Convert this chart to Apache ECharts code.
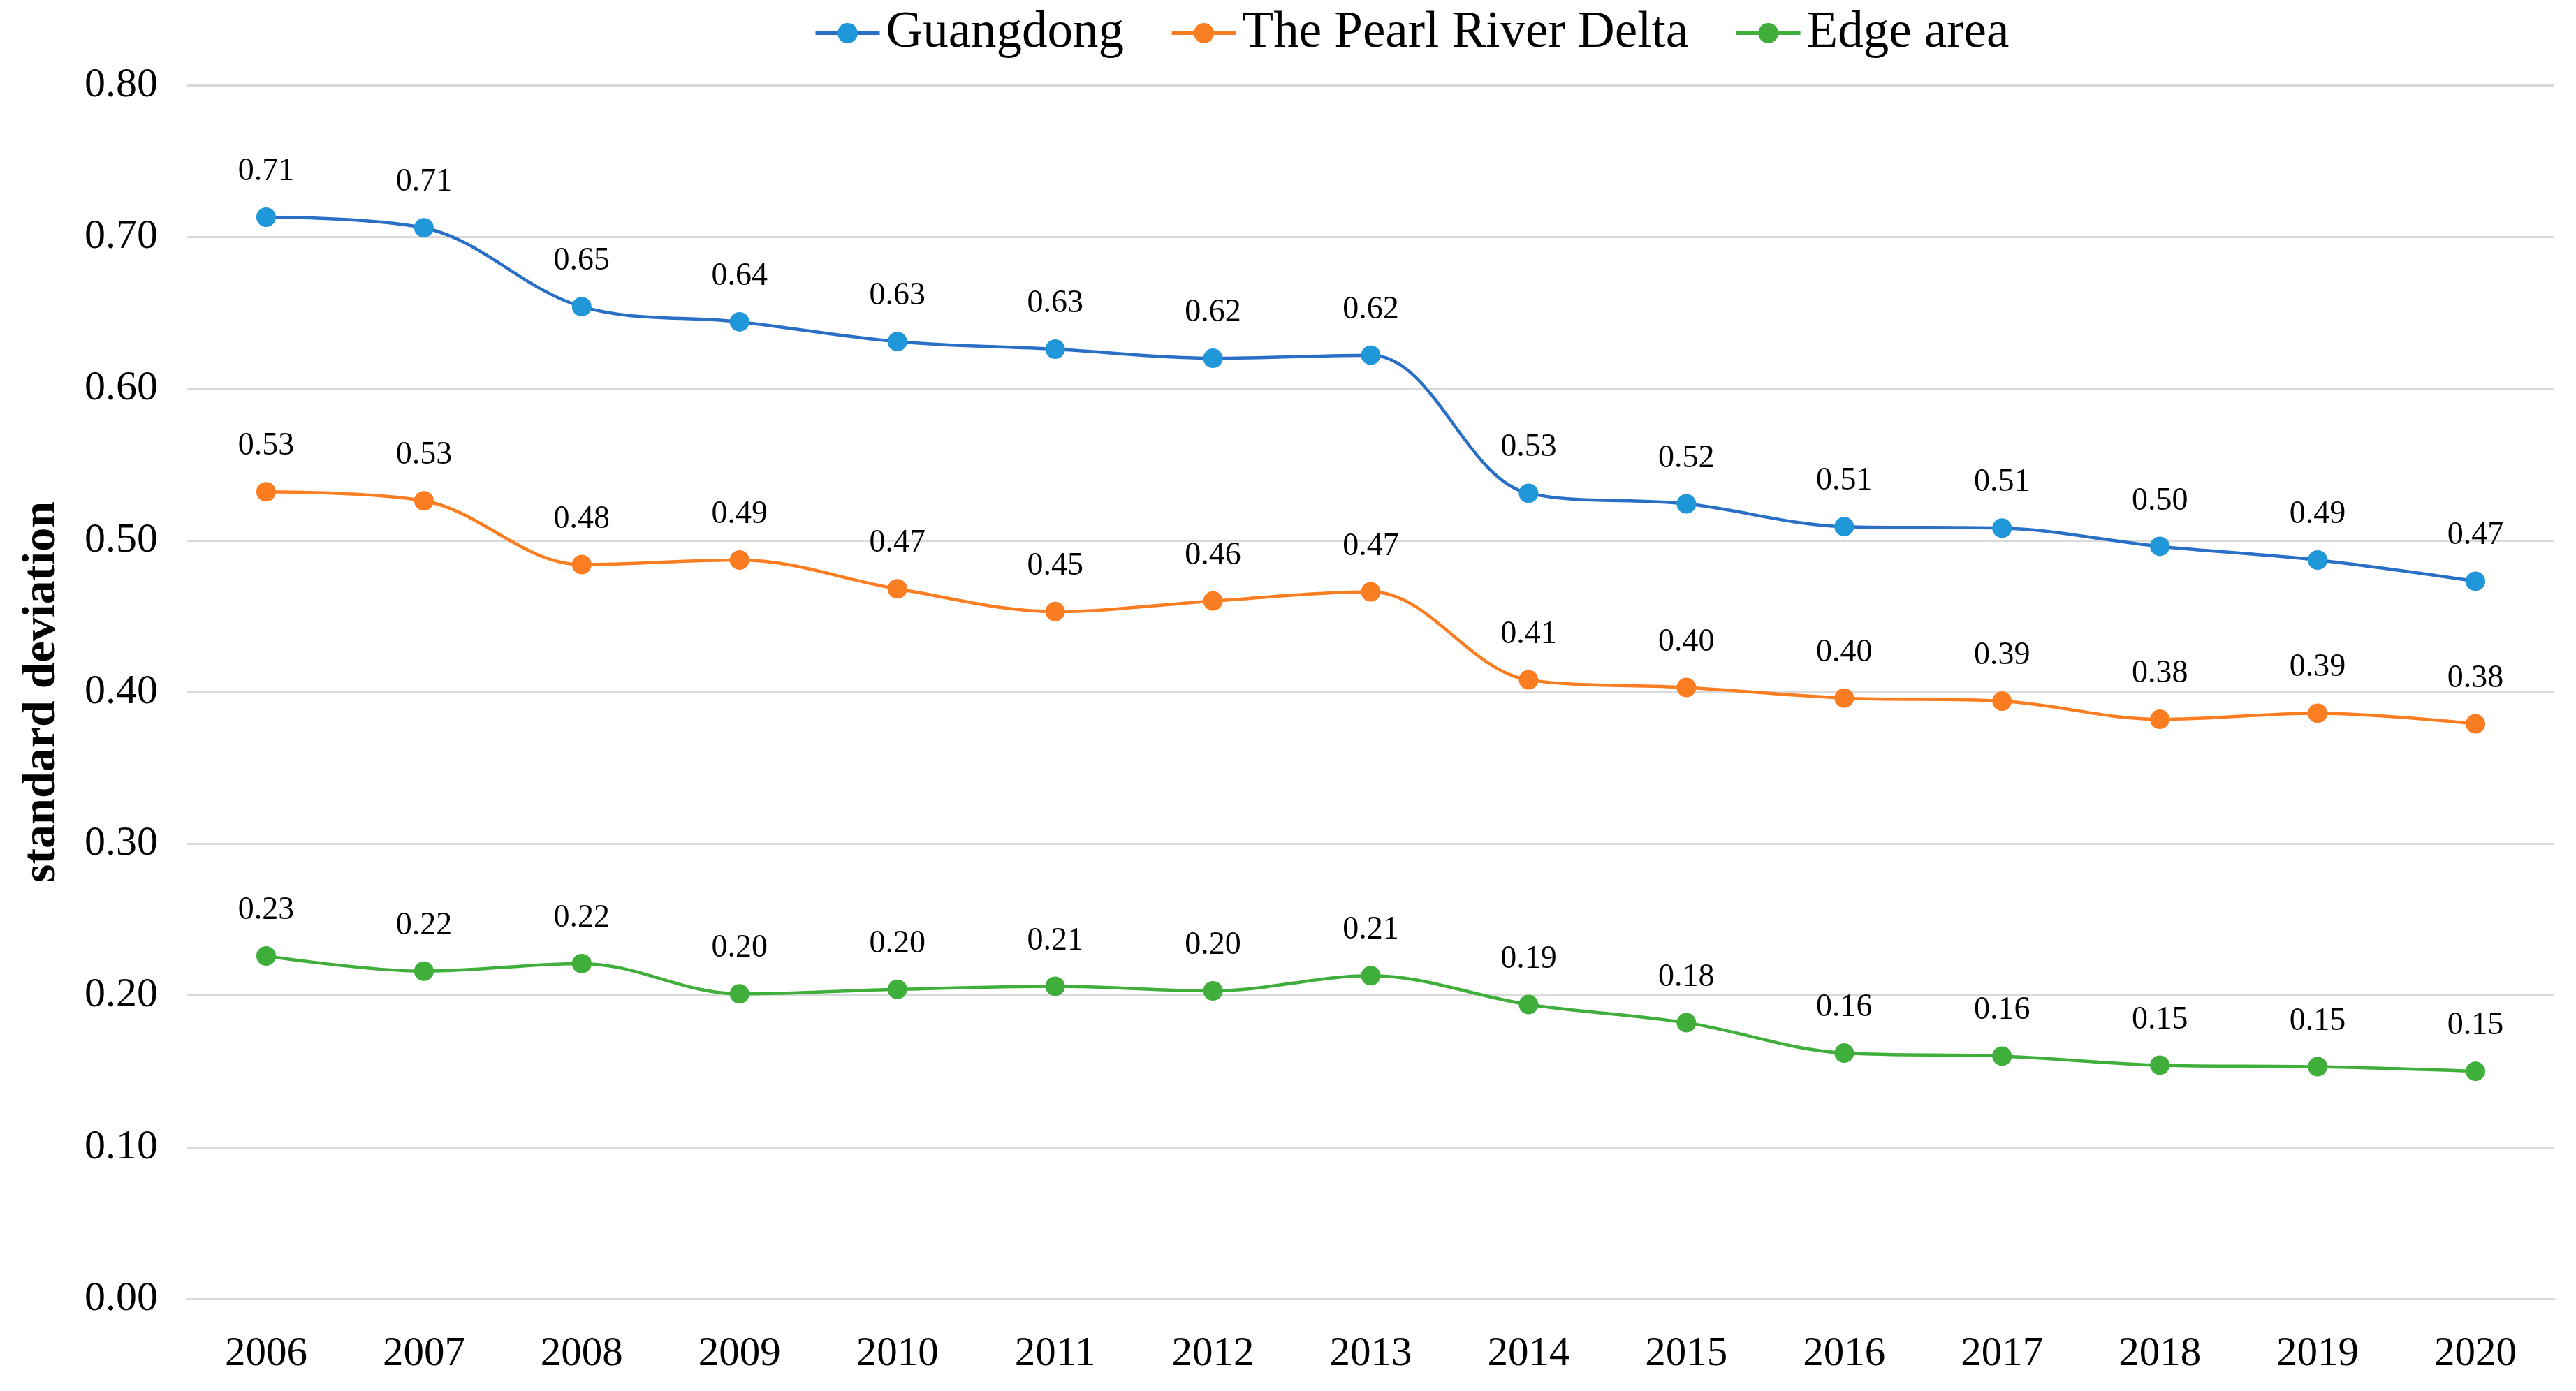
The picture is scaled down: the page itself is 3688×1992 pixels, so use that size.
<!DOCTYPE html>
<html>
<head>
<meta charset="utf-8">
<script src="https://cdn.jsdelivr.net/npm/echarts@6/dist/echarts.min.js"></script>
<style>
html,body{margin:0;padding:0;background:#fff;}
#chart{width:3688px;height:1992px;}
</style>
</head>
<body>
<div id="chart"></div>
<script>
const years = ['2006','2007','2008','2009','2010','2011','2012','2013','2014','2015','2016','2017','2018','2019','2020'];
const guangdong = [0.713,0.706,0.654,0.644,0.631,0.626,0.620,0.622,0.531,0.524,0.509,0.508,0.496,0.487,0.473];
const pearlRiverDelta = [0.532,0.526,0.484,0.487,0.468,0.453,0.460,0.466,0.408,0.403,0.396,0.394,0.382,0.386,0.379];
const edgeArea = [0.226,0.216,0.221,0.201,0.204,0.206,0.203,0.213,0.194,0.182,0.162,0.160,0.154,0.153,0.150];
const yTicks = [0, 0.1, 0.2, 0.3, 0.4, 0.5, 0.6, 0.7, 0.8];

const FONT = '"Liberation Serif", "Times New Roman", serif';

function mk(name, data, markerColor, lineColor) {
  return {
    name: name,
    type: 'line',
    data: data,
    smooth: 0.35,
    symbol: 'circle',
    symbolSize: 28,
    itemStyle: { color: markerColor },
    lineStyle: { color: lineColor, width: 4.5 },
    label: {
      show: true,
      position: 'top',
      distance: 28,
      fontFamily: FONT,
      fontSize: 46,
      color: '#000',
      formatter: p => p.value.toFixed(2)
    }
  };
}

const chart = echarts.init(document.getElementById('chart'));
chart.setOption({
  backgroundColor: '#fff',
  animation: false,
  legend: {
    top: 6,
    left: 1160,
    itemWidth: 92,
    itemHeight: 36,
    itemGap: 66,
    lineStyle: { width: 5 },
    textStyle: { fontFamily: FONT, fontSize: 73, color: '#000', padding: [0,0,0,4] },
    data: ['Guangdong', 'The Pearl River Delta', 'Edge area']
  },
  grid: { left: 268, right: 31, top: 122, bottom: 132 },
  xAxis: {
    type: 'category',
    data: years,
    boundaryGap: true,
    axisLine: { show: true, lineStyle: { color: '#d9d9d9', width: 3 } },
    axisTick: { show: false },
    axisLabel: { fontFamily: FONT, fontSize: 59, color: '#000', margin: 50 }
  },
  yAxis: {
    type: 'value',
    min: 0,
    max: 0.8,
    interval: 0.1,
    name: 'standard deviation',
    nameLocation: 'middle',
    nameGap: 174,
    nameTextStyle: { fontFamily: FONT, fontSize: 68, fontWeight: 'bold', color: '#000' },
    axisLine: { show: false },
    axisTick: { show: false },
    splitLine: { lineStyle: { color: '#d9d9d9', width: 3 } },
    axisLabel: {
      fontFamily: FONT, fontSize: 60, color: '#000', margin: 42,
      formatter: v => {
        const t = yTicks.find(x => Math.abs(x - v) < 1e-9);
        return (t !== undefined ? t : v).toFixed(2);
      }
    }
  },
  series: [
    mk('Guangdong', guangdong, '#1f97d8', '#2a6fc6'),
    mk('The Pearl River Delta', pearlRiverDelta, '#fb7d22', '#fb7d22'),
    mk('Edge area', edgeArea, '#3fae3a', '#3fae3a')
  ]
});
</script>
</body>
</html>
